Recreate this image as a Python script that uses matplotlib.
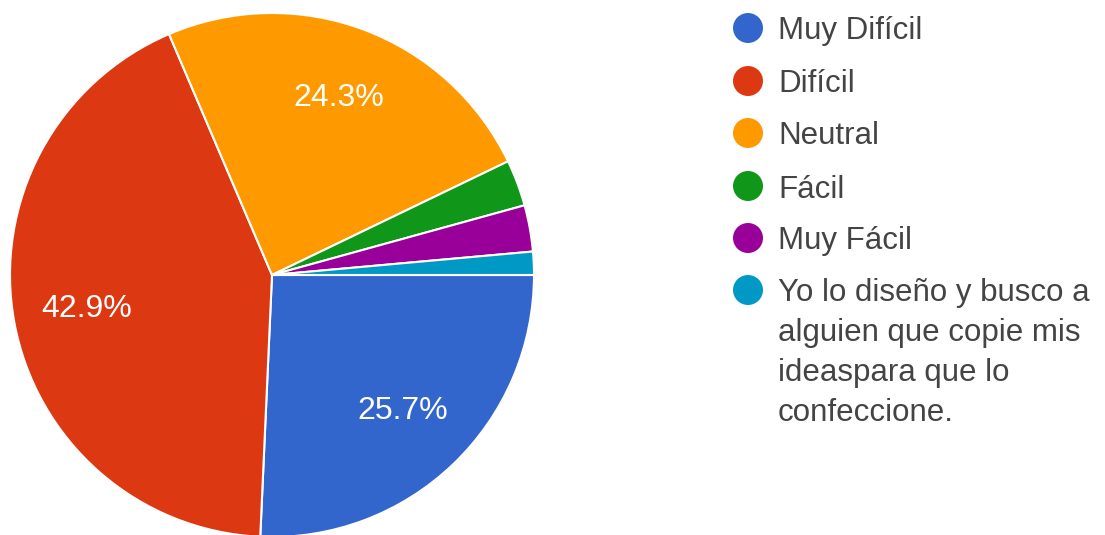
import matplotlib
matplotlib.use("Agg")
import matplotlib.pyplot as plt
from matplotlib.patches import Circle

# Survey responses (counts out of 70)
categories = [
    "Muy Difícil",
    "Difícil",
    "Neutral",
    "Fácil",
    "Muy Fácil",
    "Yo lo diseño y busco a\nalguien que copie mis\nideaspara que lo\nconfeccione.",
]
counts = [18, 30, 17, 2, 2, 1]
colors = ["#3366cc", "#dc3912", "#ff9900", "#109618", "#990099", "#0099c6"]

W, H = 1105, 535
fig = plt.figure(figsize=(W / 100, H / 100), dpi=100)
ax = fig.add_axes([0, 0, 1, 1])

plt.rcParams["font.family"] = ["Liberation Sans", "DejaVu Sans"]


def pct_label(p):
    return f"{p:.1f}%" if p >= 5 else ""


wedges, texts, autotexts = ax.pie(
    counts,
    colors=colors,
    center=(272, 260),
    radius=262,
    startangle=0,
    counterclock=False,
    autopct=pct_label,
    pctdistance=0.72,
    wedgeprops=dict(edgecolor="white", linewidth=1.5),
    textprops=dict(color="white", fontsize=23, family="Liberation Sans"),
    frame=True,
)
ax.set_xlim(0, W)
ax.set_ylim(0, H)
ax.set_aspect("equal")
ax.set_axis_off()

# Legend drawn as circles and labels
leg_x, text_x = 748, 778
row_y = [507, 454, 402, 349, 297, 245]
for cat, col, y in zip(categories, colors, row_y):
    ax.add_patch(Circle((leg_x, y), 15, facecolor=col, edgecolor="none"))
    if "\n" in cat:
        # wrapped label: first line sits level with its marker
        ax.text(text_x, y + 12, cat, fontsize=22.5, color="#444444", va="top",
                ha="left", linespacing=1.44, family="Liberation Sans")
    else:
        ax.text(text_x, y, cat, fontsize=22.5, color="#444444",
                va="center_baseline", ha="left", family="Liberation Sans")

fig.savefig("out.png", dpi=100, facecolor="white")
